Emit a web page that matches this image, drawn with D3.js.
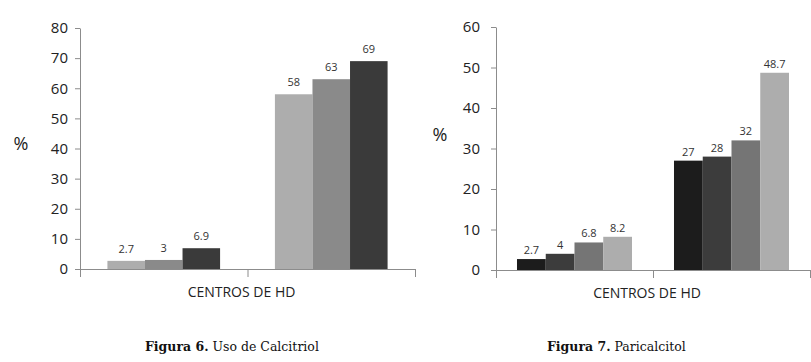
<!DOCTYPE html>
<html>
<head>
<meta charset="utf-8">
<script src="https://cdn.jsdelivr.net/npm/d3@7"></script>
<style>
  body { margin: 0; background: #fff; }
  svg { display: block; }
</style>
</head>
<body>
<div id="chart"></div>
<script>
// Figura 6 - Uso de Calcitriol
const fig6Groups = ["A", "B"];
const fig6Values = [[2.7, 3, 6.9], [58, 63, 69]];
const fig6Ticks = [0, 10, 20, 30, 40, 50, 60, 70, 80];

// Figura 7 - Paricalcitol
const fig7Groups = ["A", "B"];
const fig7Values = [[2.7, 4, 6.8, 8.2], [27, 28, 32, 48.7]];
const fig7Ticks = [0, 10, 20, 30, 40, 50, 60];

const axisTitle = "CENTROS DE HD";
const yTitle = "%";

const svg = d3.select("#chart")
    .append("svg")
    .attr("width", 811)
    .attr("height", 362);

function drawChart(opts) {
    const g = svg.append("g");

    const y = d3.scaleLinear()
        .domain([0, d3.max(opts.ticks)])
        .range([opts.bottom, opts.top]);

    // outer band = one group, inner band = one bar
    const x = d3.scaleBand()
        .domain(opts.groups)
        .range([opts.left, opts.right])
        .padding(0);

    const xInner = d3.scaleBand()
        .domain(d3.range(opts.values[0].length))
        .range([0, x.bandwidth()])
        .paddingInner(0)
        .paddingOuter(0.73);

    // y axis
    const yAxis = g.append("g")
        .attr("transform", `translate(${opts.left},0)`)
        .call(d3.axisLeft(y)
            .tickValues(opts.ticks)
            .tickSize(5)
            .tickSizeOuter(0)
            .tickPadding(opts.tickPad));
    yAxis.select(".domain").attr("stroke", "#8c8c8c");
    yAxis.selectAll(".tick line").attr("stroke", "#8c8c8c");
    yAxis.selectAll(".tick text")
        .attr("fill", "#222")
        .style("font-family", "'Open Sans', sans-serif")
        .style("font-size", "15px");

    // x axis with boundary ticks
    const xEdges = d3.scaleLinear()
        .domain([0, opts.groups.length])
        .range([opts.left, opts.right]);
    const xAxis = g.append("g")
        .attr("transform", `translate(0,${opts.bottom})`)
        .call(d3.axisBottom(xEdges)
            .tickValues(d3.range(opts.groups.length + 1))
            .tickFormat("")
            .tickSize(8)
            .tickSizeOuter(0));
    xAxis.select(".domain").attr("stroke", "#8c8c8c");
    xAxis.selectAll(".tick line").attr("stroke", "#8c8c8c");

    // bars
    const groupSel = g.selectAll(".grp")
        .data(opts.values)
        .join("g")
        .attr("class", "grp")
        .attr("transform", (d, i) => `translate(${x(opts.groups[i])},0)`);

    groupSel.selectAll("rect")
        .data(d => d)
        .join("rect")
        .attr("x", (d, i) => xInner(i))
        .attr("width", xInner.bandwidth())
        .attr("y", d => y(d))
        .attr("height", d => y(0) - y(d))
        .attr("fill", (d, i) => opts.colors[i]);

    groupSel.selectAll("text")
        .data(d => d)
        .join("text")
        .attr("x", (d, i) => xInner(i) + xInner.bandwidth() / 2)
        .attr("y", d => y(d) - opts.labelGap)
        .attr("text-anchor", "middle")
        .attr("fill", "#333")
        .style("font-family", "'Open Sans', sans-serif")
        .style("font-size", "11px")
        .text(d => d);

    // titles
    g.append("text")
        .attr("x", (opts.left + opts.right) / 2 - 6)
        .attr("y", opts.bottom + 28)
        .attr("text-anchor", "middle")
        .attr("fill", "#222")
        .style("font-family", "'Open Sans', sans-serif")
        .style("font-size", "14px")
        .text(axisTitle);

    g.append("text")
        .attr("x", opts.pctX)
        .attr("y", opts.pctY)
        .attr("text-anchor", "middle")
        .attr("fill", "#222")
        .style("font-family", "'Open Sans', sans-serif")
        .style("font-size", "18px")
        .text(yTitle);

    // caption
    const cap = g.append("text")
        .attr("x", opts.capX)
        .attr("y", 351)
        .attr("fill", "#111")
        .style("font-family", "'DejaVu Serif', serif")
        .style("font-size", "12.5px");
    cap.append("tspan").attr("font-weight", "bold").text(opts.capBold);
    cap.append("tspan").text(opts.capText);
}

drawChart({
    groups: fig6Groups,
    values: fig6Values,
    ticks: fig6Ticks,
    colors: ["#adadad", "#8a8a8a", "#3a3a3a"],
    left: 80, right: 415, top: 28, bottom: 269,
    tickPad: 7, labelGap: 8, pctX: 21, pctY: 150,
    capX: 145, capBold: "Figura 6.", capText: " Uso de Calcitriol"
});

drawChart({
    groups: fig7Groups,
    values: fig7Values,
    ticks: fig7Ticks,
    colors: ["#1c1c1c", "#3c3c3c", "#757575", "#adadad"],
    left: 496, right: 810, top: 27, bottom: 270,
    tickPad: 11, labelGap: 5, pctX: 440, pctY: 141,
    capX: 547, capBold: "Figura 7.", capText: " Paricalcitol"
});
</script>
</body>
</html>
